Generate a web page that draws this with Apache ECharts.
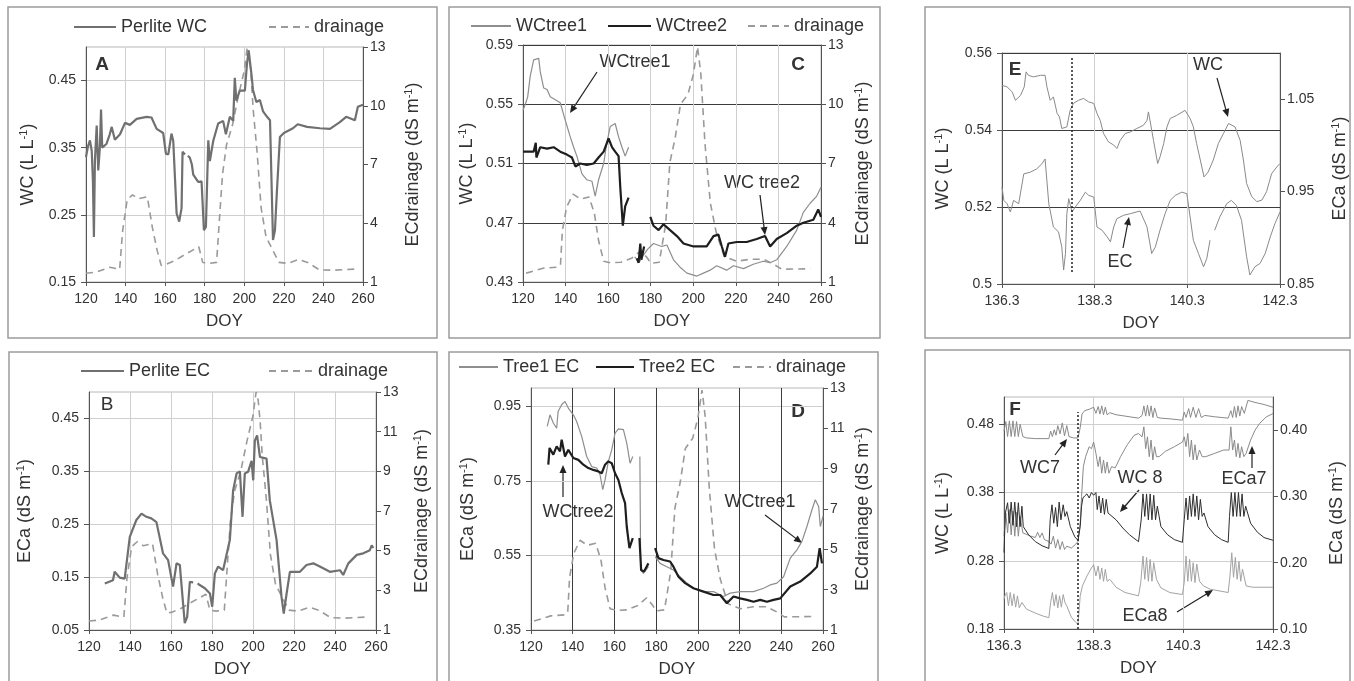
<!DOCTYPE html>
<html>
<head>
<meta charset="utf-8">
<title>Substrate WC and EC by DOY</title>
<script src="https://cdn.jsdelivr.net/npm/echarts@6/dist/echarts.min.js"></script>
<style>
  html, body { margin: 0; padding: 0; background: #fff; }
  #chart { width: 1354px; height: 681px; }
</style>
</head>
<body>
<div id="chart"></div>
<script>
// ---- values: [DOY, value], null = gap ----
const perliteWC = [[120,0.336],[121,0.352],[122,0.361],[122.9,0.345],[123.5,0.3],[124,0.217],[124.5,0.33],[125.4,0.383],[126.2,0.316],[127,0.35],[127.6,0.407],[128.2,0.35],[130.4,0.356],[132,0.37],[133,0.381],[134.6,0.362],[137.2,0.37],[139.7,0.387],[142.2,0.384],[145.6,0.393],[150.6,0.396],[153.1,0.395],[155.7,0.378],[159,0.372],[160.4,0.341],[161.6,0.34],[163.2,0.371],[164.1,0.36],[165.8,0.252],[167.1,0.24],[168.3,0.26],[168.8,0.344],[170,0.34],[170.6,null],[171.5,0.338],[172.5,0.335],[173.5,0.325],[174.2,0.31],[176.7,0.299],[178.4,0.3],[179.6,0.227],[180.6,0.232],[181.8,0.361],[182.6,0.33],[184.3,0.36],[186.8,0.386],[189.3,0.39],[190.7,0.37],[192.7,0.396],[194.4,0.39],[195.2,0.454],[196,0.42],[197.7,0.435],[200.3,0.435],[201.3,0.473],[202.2,0.495],[202.8,0.48],[203.6,0.46],[204.4,0.436],[206.1,0.418],[207.9,0.421],[209.5,0.404],[211.5,0.396],[213,0.391],[214.5,0.2125],[215.5,0.227],[216.4,0.28],[218,0.366],[220,0.372],[224.6,0.379],[227,0.385],[231.7,0.381],[238.2,0.379],[243.3,0.378],[248.3,0.388],[251.5,0.396],[253.4,0.394],[255.9,0.391],[257.4,0.411],[260,0.414]];

const perliteEC = [[127.7,0.138],[131.7,0.144],[132.5,0.16],[135,0.149],[137.4,0.147],[138.2,0.15],[139.9,0.226],[141.5,0.242],[143.1,0.258],[145.6,0.27],[148,0.264],[150.4,0.261],[152.9,0.254],[156.1,0.195],[158.6,0.182],[161,0.132],[162.7,0.176],[164.3,0.173],[165.9,0.1],[166.7,0.063],[167.9,0.075],[169.2,0.141],[170.8,0.14],[172,null],[173,0.138],[174,0.135],[176.5,0.129],[179,0.119],[180.1,0.094],[181.4,0.157],[183,0.17],[185.4,0.163],[188.7,0.22],[190.3,0.314],[192,0.346],[193.6,0.35],[194.9,0.264],[196,0.346],[197.6,0.349],[199.3,0.37],[200.1,0.333],[200.9,0.408],[202,0.418],[203.4,0.377],[206.6,0.374],[208.2,0.295],[211.5,0.22],[213.9,0.113],[215,0.081],[216.4,0.119],[218,0.16],[222.9,0.16],[226.1,0.173],[229.4,0.176],[232.6,0.17],[237.5,0.16],[242.4,0.163],[244,0.154],[246.5,0.176],[250.6,0.192],[253.8,0.195],[257,0.201],[257.9,0.21],[258.7,0.205]];

const perliteDrain = [[120,1.45],[125,1.5],[132,1.75],[137,1.65],[138.5,3.6],[140.8,5.2],[143.5,5.45],[146.5,5.25],[151,5.35],[153.5,3.8],[156,2.6],[158,1.85],[160.5,1.9],[165,2.1],[170,2.4],[177,2.8],[179,2.0],[182,1.95],[186,2.0],[187.5,4.3],[189,6.5],[191,8.0],[194,9.0],[197,10.5],[200,11.8],[201.5,13],[202.5,12.6],[203.5,11.5],[204.5,9.8],[206.5,7.6],[208.5,4.8],[211,3.3],[214.5,2.6],[217.5,2.0],[222,1.95],[227.5,2.15],[232,2.0],[238,1.62],[245,1.6],[256,1.66]];

const wcTree1 = [[120,0.546],[121.1,0.55],[122.2,0.555],[123.4,0.569],[125,0.58],[127.4,0.581],[128.1,0.572],[129.7,0.561],[131.3,0.56],[132.8,0.555],[135.2,0.553],[137.5,0.551],[139.9,0.539],[142.2,0.528],[143.8,0.521],[145.3,0.515],[147.7,0.503],[150,0.499],[152.4,0.498],[153.9,0.488],[155.5,0.499],[157.9,0.51],[159.4,0.524],[161,0.535],[163.3,0.537],[164.9,0.528],[166.5,0.521],[168,0.515],[169.6,0.521],[170.5,null],[172.5,0.447],[174.5,0.443],[176.5,0.448],[178.5,0.452],[181.3,0.456],[185.2,0.454],[187.6,0.455],[190.7,0.445],[193.8,0.44],[197,0.436],[201.7,0.434],[204.8,0.436],[207.9,0.438],[211,0.441],[215.7,0.438],[218.9,0.441],[223.6,0.439],[228.2,0.442],[232.9,0.444],[236,0.443],[239.2,0.445],[243.9,0.454],[248.6,0.465],[251.7,0.477],[254.8,0.483],[258,0.488],[260,0.494]];

const wcTree2 = [[120,0.518],[125,0.518],[126,0.524],[126.3,0.514],[128.1,0.521],[131.3,0.52],[134.4,0.521],[137.5,0.518],[140.6,0.516],[143,0.514],[144.6,0.508],[146.9,0.51],[150,0.509],[153.2,0.51],[155.5,0.514],[157.9,0.518],[160.2,0.527],[161.8,0.521],[163.3,0.518],[164.9,0.515],[165.7,0.494],[166.9,0.468],[168,0.481],[169.6,0.487],[170.5,null],[173.5,0.446],[174.3,0.443],[175.1,0.456],[175.6,0.445],[176.9,0.454],[178,null],[179.8,0.474],[181.3,0.468],[183.7,0.465],[186,0.469],[189.1,0.465],[192.3,0.461],[195.4,0.456],[200.1,0.454],[206.3,0.454],[209.5,0.461],[211.8,0.462],[213.4,0.454],[214.9,0.447],[216.5,0.456],[220.4,0.457],[225.1,0.457],[229.8,0.459],[233.7,0.461],[236.1,0.454],[239.2,0.459],[243.9,0.463],[248.6,0.468],[251.7,0.47],[256.4,0.472],[258.7,0.479],[260,0.474]];

const ecTree1 = [[127.8,0.897],[129.1,0.928],[130.7,0.906],[132.3,0.892],[133,0.937],[134.7,0.955],[136.3,0.964],[137.9,0.946],[140.3,0.928],[141.9,0.91],[144.3,0.87],[146.7,0.816],[149.1,0.789],[151.5,0.785],[153.1,0.767],[154.4,0.727],[155.5,0.753],[157.1,0.803],[158.7,0.834],[160.3,0.879],[161.9,0.89],[164.3,0.888],[165.9,0.852],[167.5,0.798],[168.8,0.816],[170,null],[172.2,0.816],[172.6,0.511],[173.9,0.502],[176.3,0.52],[177.5,null],[179.5,0.547],[181.9,0.529],[185.1,0.52],[188.3,0.511],[191.5,0.493],[194.7,0.476],[197.9,0.462],[202.7,0.453],[207.5,0.453],[212.3,0.44],[215.5,0.449],[220.3,0.453],[226.7,0.453],[231.5,0.462],[234.7,0.471],[237.9,0.476],[241.1,0.493],[244.3,0.543],[247.5,0.565],[249.9,0.588],[252.3,0.628],[254.7,0.673],[256.3,0.7],[257.9,0.682],[258.7,0.628],[260,0.655]];

const ecTree2 = [[128.3,0.794],[128.9,0.839],[130.7,0.821],[132.3,0.843],[133.9,0.83],[134.7,0.861],[136.3,0.816],[137.9,0.834],[140.3,0.812],[142.7,0.807],[145.1,0.794],[147.5,0.785],[149.9,0.78],[152.3,0.776],[153.9,0.771],[155.5,0.794],[157.1,0.803],[158.7,0.798],[160.3,0.771],[161.9,0.753],[163.5,0.718],[165.1,0.691],[165.9,0.628],[167.2,0.57],[168.8,0.597],[170,null],[172,0.597],[172.8,0.511],[174.2,0.507],[176.3,0.529],[177.5,null],[179.5,0.57],[181.1,0.543],[183.5,0.538],[186.7,0.534],[188.3,0.52],[190.7,0.493],[193.9,0.476],[197.9,0.462],[202.7,0.453],[207.5,0.444],[210.7,0.444],[213.9,0.422],[217.1,0.44],[220.3,0.435],[223.5,0.431],[226.7,0.426],[229.9,0.431],[233.1,0.426],[236.3,0.431],[239.5,0.435],[244.3,0.467],[249.1,0.48],[253.9,0.502],[257.1,0.52],[258.4,0.57],[259.5,0.529]];

const treeDrain = [[121.5,1.45],[129.5,1.7],[136,1.75],[137.6,1.85],[138.5,3.6],[140.5,4.8],[143.5,5.45],[147,5.2],[151,5.3],[153.5,4.5],[155.5,3.1],[157.9,2.05],[161,1.97],[166,2.0],[171,2.2],[175.5,2.6],[178.5,2.2],[180,1.95],[184,2.0],[187,3.9],[189,7.05],[191.5,8.3],[194,10.0],[197.5,10.5],[200,11.5],[202,12.9],[203.5,11.6],[205.5,8.0],[208,5.0],[210.8,3.5],[214.5,2.3],[220.4,2.05],[226.7,2.15],[233,2.15],[237.8,1.9],[241.5,1.65],[255,1.67]];

const wcE = [[136.3,0.5516],[136.41,0.5512],[136.52,0.5499],[136.59,0.5477],[136.7,0.549],[136.78,0.5512],[136.82,0.5551],[136.87,0.5542],[136.98,0.5538],[137.13,0.5542],[137.23,0.5542],[137.27,0.5512],[137.34,0.5477],[137.41,0.5486],[137.49,0.5443],[137.54,0.5434],[137.59,0.5404],[137.7,0.5408],[137.77,0.5451],[137.84,0.5469],[137.95,0.5477],[138.06,0.5482],[138.17,0.5473],[138.28,0.5469],[138.35,0.5443],[138.42,0.5425],[138.49,0.5391],[138.6,0.5369],[138.71,0.5361],[138.78,0.5352],[138.85,0.5373],[138.96,0.5391],[139.07,0.5395],[139.21,0.5404],[139.35,0.5412],[139.43,0.5425],[139.46,0.5447],[139.5,0.5421],[139.57,0.5373],[139.66,0.5313],[139.71,0.533],[139.79,0.5365],[139.86,0.5408],[139.93,0.543],[140.07,0.5438],[140.25,0.5451],[140.36,0.543],[140.43,0.5408],[140.5,0.5365],[140.58,0.5322],[140.66,0.5278],[140.75,0.5291],[140.86,0.5322],[140.97,0.5365],[141.08,0.5391],[141.19,0.5417],[141.33,0.5408],[141.44,0.5373],[141.51,0.5322],[141.58,0.5261],[141.69,0.5227],[141.8,0.5214],[141.91,0.5218],[142.01,0.524],[142.12,0.5287],[142.23,0.5304],[142.3,0.5313]];

const ecE = [[136.3,0.9548],[136.34,0.9405],[136.41,0.9369],[136.48,0.9279],[136.55,0.9405],[136.66,0.9369],[136.77,0.9692],[136.91,0.971],[137.05,0.9746],[137.16,0.98],[137.23,0.9853],[137.31,0.9369],[137.41,0.9117],[137.52,0.9064],[137.59,0.8902],[137.63,0.8651],[137.67,0.883],[137.7,0.9261],[137.74,0.9423],[137.81,0.9279],[137.88,0.9333],[137.99,0.9405],[138.1,0.9494],[138.17,0.9459],[138.28,0.9441],[138.35,0.9117],[138.46,0.9082],[138.57,0.901],[138.64,0.8956],[138.71,0.9117],[138.78,0.9207],[138.92,0.9243],[139.07,0.9261],[139.28,0.929],[139.43,0.9117],[139.53,0.883],[139.61,0.8902],[139.71,0.9082],[139.82,0.9261],[139.93,0.9405],[140.04,0.9459],[140.18,0.9494],[140.29,0.9477],[140.36,0.9225],[140.43,0.8974],[140.54,0.883],[140.65,0.8687],[140.72,0.8776],[140.79,0.8974],[140.84,null],[140.89,0.9082],[141.0,0.9225],[141.15,0.9369],[141.25,0.9405],[141.36,0.935],[141.47,0.9189],[141.58,0.8794],[141.65,0.8597],[141.76,0.8687],[141.87,0.8723],[141.98,0.883],[142.09,0.901],[142.19,0.9153],[142.3,0.9279]];

const wc7 = [[136.3,0.47],[136.34,0.484],[136.38,0.462],[136.42,0.485],[136.46,0.462],[136.5,0.485],[136.54,0.462],[136.58,0.484],[136.62,0.462],[136.66,0.48],[136.72,0.462],[136.8,0.46],[137.0,0.459],[137.3,0.459],[137.34,0.47],[137.38,0.462],[137.42,0.472],[137.46,0.464],[137.5,0.478],[137.55,0.466],[137.6,0.482],[137.65,0.463],[137.7,0.478],[137.75,0.462],[137.85,0.46],[137.95,0.46],[138.0,0.475],[138.04,0.495],[138.1,0.5],[138.2,0.502],[138.3,0.505],[138.35,0.496],[138.4,0.506],[138.44,0.495],[138.48,0.507],[138.52,0.494],[138.56,0.505],[138.6,0.494],[138.66,0.497],[138.8,0.494],[139.0,0.492],[139.3,0.489],[139.38,0.493],[139.42,0.507],[139.46,0.492],[139.5,0.508],[139.54,0.492],[139.58,0.507],[139.62,0.49],[139.66,0.504],[139.72,0.49],[139.8,0.489],[140.0,0.488],[140.28,0.486],[140.32,0.498],[140.36,0.49],[140.42,0.503],[140.46,0.49],[140.52,0.505],[140.58,0.49],[140.64,0.503],[140.7,0.49],[140.78,0.493],[141.0,0.491],[141.3,0.489],[141.36,0.5],[141.4,0.49],[141.44,0.506],[141.48,0.49],[141.52,0.507],[141.56,0.492],[141.6,0.506],[141.66,0.496],[141.74,0.515],[141.9,0.512],[142.1,0.509],[142.3,0.505]];

const wc8 = [[136.3,0.292],[136.33,0.35],[136.38,0.365],[136.42,0.335],[136.46,0.366],[136.5,0.332],[136.54,0.366],[136.58,0.33],[136.62,0.365],[136.66,0.33],[136.7,0.36],[136.73,0.33],[136.85,0.318],[137.0,0.308],[137.15,0.302],[137.3,0.298],[137.33,0.34],[137.37,0.362],[137.41,0.335],[137.45,0.358],[137.49,0.33],[137.53,0.366],[137.57,0.34],[137.62,0.362],[137.66,0.345],[137.7,0.352],[137.78,0.33],[137.88,0.315],[137.95,0.31],[138.0,0.33],[138.03,0.36],[138.06,0.372],[138.1,0.375],[138.15,0.378],[138.2,0.372],[138.25,0.38],[138.3,0.376],[138.35,0.38],[138.38,0.355],[138.42,0.375],[138.46,0.35],[138.5,0.372],[138.54,0.348],[138.58,0.37],[138.62,0.35],[138.66,0.352],[138.8,0.34],[138.95,0.328],[139.1,0.318],[139.3,0.308],[139.36,0.34],[139.4,0.378],[139.44,0.345],[139.48,0.378],[139.52,0.34],[139.56,0.378],[139.6,0.34],[139.64,0.376],[139.68,0.34],[139.72,0.36],[139.8,0.33],[139.95,0.318],[140.1,0.311],[140.28,0.307],[140.32,0.34],[140.36,0.372],[140.4,0.34],[140.44,0.375],[140.48,0.345],[140.52,0.378],[140.56,0.345],[140.6,0.375],[140.64,0.34],[140.68,0.37],[140.72,0.345],[140.76,0.35],[140.85,0.33],[141.0,0.318],[141.15,0.311],[141.3,0.307],[141.33,0.345],[141.37,0.38],[141.41,0.345],[141.45,0.38],[141.49,0.345],[141.53,0.38],[141.57,0.345],[141.61,0.378],[141.65,0.345],[141.69,0.36],[141.8,0.335],[141.95,0.322],[142.1,0.314],[142.3,0.31]];

const eca7 = [[136.3,0.24],[136.34,0.275],[136.38,0.245],[136.42,0.28],[136.46,0.242],[136.5,0.278],[136.54,0.24],[136.58,0.276],[136.62,0.24],[136.66,0.27],[136.72,0.245],[136.9,0.24],[137.0,0.238],[137.05,0.246],[137.1,0.238],[137.15,0.245],[137.2,0.235],[137.3,0.232],[137.35,0.228],[137.4,0.24],[137.45,0.222],[137.5,0.235],[137.55,0.22],[137.6,0.232],[137.65,0.22],[137.7,0.225],[137.8,0.222],[137.9,0.228],[137.95,0.232],[138.0,0.26],[138.03,0.3],[138.07,0.345],[138.12,0.36],[138.2,0.375],[138.25,0.372],[138.3,0.382],[138.35,0.365],[138.4,0.345],[138.44,0.36],[138.48,0.335],[138.52,0.355],[138.56,0.335],[138.6,0.352],[138.64,0.335],[138.7,0.345],[138.78,0.343],[138.9,0.36],[139.05,0.378],[139.2,0.392],[139.3,0.395],[139.38,0.39],[139.42,0.405],[139.46,0.372],[139.5,0.39],[139.54,0.36],[139.58,0.385],[139.62,0.355],[139.66,0.375],[139.7,0.36],[139.76,0.36],[139.9,0.368],[140.1,0.375],[140.28,0.382],[140.32,0.39],[140.36,0.375],[140.4,0.395],[140.44,0.36],[140.48,0.385],[140.52,0.355],[140.56,0.378],[140.6,0.355],[140.66,0.37],[140.72,0.36],[140.8,0.36],[141.0,0.365],[141.2,0.37],[141.32,0.37],[141.36,0.405],[141.4,0.37],[141.44,0.385],[141.48,0.36],[141.52,0.38],[141.56,0.358],[141.6,0.375],[141.65,0.36],[141.7,0.365],[141.8,0.385],[141.9,0.4],[142.0,0.41],[142.15,0.42],[142.3,0.425]];

const eca8 = [[136.3,0.145],[136.32,0.15],[136.36,0.155],[136.4,0.135],[136.44,0.155],[136.48,0.135],[136.52,0.153],[136.56,0.133],[136.6,0.15],[136.64,0.132],[136.7,0.14],[136.8,0.13],[137.0,0.124],[137.15,0.12],[137.3,0.117],[137.34,0.14],[137.38,0.155],[137.42,0.135],[137.46,0.152],[137.5,0.132],[137.54,0.15],[137.58,0.133],[137.62,0.152],[137.66,0.14],[137.7,0.135],[137.8,0.118],[137.9,0.11],[137.95,0.107],[138.0,0.15],[138.05,0.165],[138.15,0.18],[138.25,0.192],[138.3,0.197],[138.35,0.18],[138.4,0.195],[138.44,0.175],[138.48,0.192],[138.52,0.172],[138.56,0.19],[138.6,0.172],[138.66,0.175],[138.8,0.163],[139.0,0.155],[139.3,0.15],[139.35,0.17],[139.4,0.21],[139.44,0.175],[139.48,0.208],[139.52,0.172],[139.56,0.205],[139.6,0.172],[139.64,0.2],[139.7,0.175],[139.8,0.162],[140.0,0.155],[140.28,0.152],[140.32,0.17],[140.36,0.21],[140.4,0.172],[140.44,0.205],[140.48,0.172],[140.52,0.2],[140.56,0.17],[140.6,0.198],[140.66,0.172],[140.75,0.165],[140.9,0.16],[141.3,0.155],[141.34,0.18],[141.38,0.215],[141.42,0.178],[141.46,0.208],[141.5,0.175],[141.54,0.202],[141.58,0.172],[141.62,0.19],[141.7,0.165],[141.85,0.163],[142.3,0.163]];

// tick labels
const doyTicks = [120, 140, 160, 180, 200, 220, 240, 260];
const hourTicks = [136.3, 138.3, 140.3, 142.3];
const ticksA = [0.15, 0.25, 0.35, 0.45];
const ticksB = [0.05, 0.15, 0.25, 0.35, 0.45];
const ticksC = [0.43, 0.47, 0.51, 0.55, 0.59];
const ticksD = [0.35, 0.55, 0.75, 0.95];
const ticksE = [0.5, 0.52, 0.54, 0.56];
const ticksERight = [0.85, 0.95, 1.05];
const ticksF = [0.18, 0.28, 0.38, 0.48];
const ticksFRight = [0.10, 0.20, 0.30, 0.40];
const drainTicks3 = [1, 4, 7, 10, 13];
const drainTicks2 = [1, 3, 5, 7, 9, 11, 13];
const sensorChangeE = 137.8;
const sensorChangeF = 137.95;

const FONT = '"Liberation Sans", Arial, sans-serif';
const TXT = '#333';
const AX = '#555';
const LIGHT = '#cfcfcf';
const DARK = '#3c3c3c';
const supRich = { s: { fontSize: 11, fontFamily: FONT, color: TXT, verticalAlign: 'bottom', padding: [0, 0, 9, 0] } };

function xAxis(gi, min, max, ticks, lineColor, dec) {
  return {
    type: 'value', gridIndex: gi, min: min, max: max,
    name: 'DOY', nameLocation: 'middle', nameGap: 31,
    nameTextStyle: { fontSize: 17, color: TXT, fontFamily: FONT },
    axisLine: { onZero: false, lineStyle: { color: AX } },
    axisTick: { customValues: ticks, length: 4, lineStyle: { color: AX } },
    axisLabel: { customValues: ticks, fontSize: 14, color: TXT, fontFamily: FONT, margin: 10,
      formatter: v => dec ? v.toFixed(dec) : String(v) },
    splitLine: { show: true, lineStyle: { color: lineColor, width: 1 } }
  };
}

function yAxis(gi, side, min, max, ticks, name, gap, lineColor, dec) {
  return {
    type: 'value', gridIndex: gi, position: side, min: min, max: max,
    name: name, nameLocation: 'middle', nameGap: gap,
    nameTextStyle: { fontSize: 18, color: TXT, fontFamily: FONT, rich: supRich },
    axisLine: { show: true, onZero: false, lineStyle: { color: AX } },
    axisTick: { show: true, customValues: ticks, length: 5, lineStyle: { color: AX } },
    axisLabel: { customValues: ticks, fontSize: 14, color: TXT, fontFamily: FONT,
      margin: side === 'left' ? 10 : 7,
      formatter: v => dec ? v.toFixed(dec) : String(Math.round(v * 100) / 100) },
    splitLine: { show: !!lineColor, lineStyle: { color: lineColor || LIGHT, width: 1 } }
  };
}

function line(name, data, gi, right, color, width, dash) {
  return {
    type: 'line', name: name, data: data, xAxisIndex: gi, yAxisIndex: gi * 2 + (right ? 1 : 0),
    showSymbol: false, symbol: 'none', connectNulls: false, silent: true,
    lineStyle: { color: color, width: width, type: dash || 'solid' },
    itemStyle: { color: color }
  };
}

function dottedMark(x, y0, y1) {
  return {
    silent: true, symbol: ['none', 'none'], label: { show: false },
    lineStyle: { type: [2, 2], color: '#222', width: 1.5 },
    data: [[{ coord: [x, y0] }, { coord: [x, y1] }]]
  };
}

// one legend per entry so each sample sits where the figure has it
function legendItem(name, x, y, w) {
  return {
    data: [name], left: x, top: y - 7, itemWidth: w, itemHeight: 14, padding: 0,
    selectedMode: false, itemStyle: { opacity: 0 },
    textStyle: { fontSize: 18, color: TXT, fontFamily: FONT }
  };
}

function label(text, x, y, bold) {
  return { type: 'text', x: x, y: y, silent: true,
    style: { text: text, font: (bold ? 'bold ' : '') + '19px ' + FONT, fill: TXT, align: 'center', verticalAlign: 'middle' } };
}

function note(text, x, y) {
  return { type: 'text', x: x, y: y, silent: true,
    style: { text: text, font: '18px ' + FONT, fill: TXT, align: 'center', verticalAlign: 'middle' } };
}

function arrow(x1, y1, x2, y2) {
  const a = Math.atan2(y2 - y1, x2 - x1), L = 8, W = 3.5;
  const c = Math.cos(a), s = Math.sin(a);
  return [
    { type: 'line', silent: true, shape: { x1: x1, y1: y1, x2: x2 - L * 0.7 * c, y2: y2 - L * 0.7 * s },
      style: { stroke: '#222', lineWidth: 1.2 } },
    { type: 'polygon', silent: true,
      shape: { points: [[x2, y2], [x2 - L * c + W * s, y2 - L * s - W * c], [x2 - L * c - W * s, y2 - L * s + W * c]] },
      style: { fill: '#222' } }
  ];
}

function box(x, y, w, h) {
  return { type: 'rect', silent: true, shape: { x: x, y: y, width: w, height: h },
    style: { fill: 'none', stroke: '#9c9c9c', lineWidth: 1.5 } };
}

const gridBase = { show: true, borderColor: '#b8b8b8', borderWidth: 1, containLabel: false, outerBoundsMode: 'none' };
const wcName = 'WC (L L{s|-1})';
const ecaName = 'ECa (dS m{s|-1})';
const drainName = 'ECdrainage (dS m{s|-1})';
const dash = [7, 5];

const chart = echarts.init(document.getElementById('chart'), null, { renderer: 'canvas' });

chart.setOption({
  animation: false,
  backgroundColor: '#fff',
  grid: [
    Object.assign({ left: 86, top: 47, width: 277, height: 235 }, gridBase),    // A
    Object.assign({ left: 523, top: 45, width: 298, height: 237 }, gridBase),   // C
    Object.assign({ left: 1002, top: 53, width: 278, height: 231 }, gridBase),  // E
    Object.assign({ left: 89, top: 392, width: 287, height: 238 }, gridBase),   // B
    Object.assign({ left: 531, top: 388, width: 292, height: 242 }, gridBase),  // D
    Object.assign({ left: 1004, top: 397, width: 269, height: 232 }, gridBase)  // F
  ],
  xAxis: [
    xAxis(0, 120, 260, doyTicks, LIGHT),
    xAxis(1, 120, 260, doyTicks, LIGHT),
    xAxis(2, 136.3, 142.3, hourTicks, LIGHT, 1),
    xAxis(3, 120, 260, doyTicks, LIGHT),
    xAxis(4, 120, 260, doyTicks, DARK),
    xAxis(5, 136.3, 142.3, hourTicks, LIGHT, 1)
  ],
  yAxis: [
    yAxis(0, 'left', 0.15, 0.5, ticksA, wcName, 48, LIGHT, 2),
    yAxis(0, 'right', 1, 13, drainTicks3, drainName, 40),
    yAxis(1, 'left', 0.43, 0.59, ticksC, wcName, 46, DARK, 2),
    yAxis(1, 'right', 1, 13, drainTicks3, drainName, 32),
    yAxis(2, 'left', 0.5, 0.56, ticksE, wcName, 49, DARK),
    yAxis(2, 'right', 0.85, 1.1, ticksERight, ecaName, 50, null, 2),
    yAxis(3, 'left', 0.05, 0.5, ticksB, ecaName, 54, LIGHT, 2),
    yAxis(3, 'right', 1, 13, drainTicks2, drainName, 36),
    yAxis(4, 'left', 0.35, 1.0, ticksD, ecaName, 53, LIGHT, 2),
    yAxis(4, 'right', 1, 13, drainTicks2, drainName, 30),
    yAxis(5, 'left', 0.18, 0.52, ticksF, wcName, 51, LIGHT, 2),
    yAxis(5, 'right', 0.10, 0.45, ticksFRight, ecaName, 54, null, 2)
  ],
  legend: [
    legendItem('Perlite WC', 73, 25, 42),
    legendItem('drainage', 268, 25, 40),
    legendItem('Perlite EC', 80, 369, 43),
    legendItem('drainage', 268, 369, 44),
    legendItem('WCtree1', 470, 24, 40),
    legendItem('WCtree2', 607, 24, 43),
    legendItem('drainage', 747, 24, 41),
    legendItem('Tree1 EC', 458, 365, 39),
    legendItem('Tree2 EC', 595, 365, 38),
    legendItem('drainage', 732, 365, 38)
  ],
  series: [
    line('drainage', perliteDrain, 0, true, '#9a9a9a', 1.6, dash),
    line('Perlite WC', perliteWC, 0, false, '#707070', 2.2),
    line('drainage', treeDrain, 1, true, '#9a9a9a', 1.6, dash),
    line('WCtree1', wcTree1, 1, false, '#8e8e8e', 1.2),
    line('WCtree2', wcTree2, 1, false, '#1e1e1e', 2.2),
    Object.assign(line('E WC', wcE, 2, false, '#8a8a8a', 1), { markLine: dottedMark(sensorChangeE, 0.5031, 0.559) }),
    line('E EC', ecE, 2, true, '#8a8a8a', 1),
    line('drainage', perliteDrain, 3, true, '#9a9a9a', 1.6, dash),
    line('Perlite EC', perliteEC, 3, false, '#707070', 2.2),
    line('drainage', treeDrain, 4, true, '#9a9a9a', 1.6, dash),
    line('Tree1 EC', ecTree1, 4, false, '#8e8e8e', 1.2),
    line('Tree2 EC', ecTree2, 4, false, '#1e1e1e', 2.2),
    Object.assign(line('WC7', wc7, 5, false, '#8a8a8a', 1), { markLine: dottedMark(sensorChangeF, 0.18, 0.498) }),
    line('ECa7', eca7, 5, true, '#8a8a8a', 1),
    line('WC8', wc8, 5, false, '#2e2e2e', 1),
    line('ECa8', eca8, 5, true, '#a3a3a3', 1)
  ],
  graphic: [
    box(8, 7, 429, 331), box(449, 7, 431, 331), box(925, 7, 425, 331),
    box(9, 352, 428, 340), box(449, 352, 429, 340), box(925, 350, 425, 342),
    label('A', 102, 65, true), label('B', 107, 405, false), label('C', 798, 65, true),
    label('D', 798, 412, true), label('E', 1015, 70, true), label('F', 1015, 410, true),
    note('WCtree1', 635, 62), ...arrow(597, 72, 570, 113),
    note('WC tree2', 762, 183), ...arrow(760, 195, 765, 235),
    note('WCtree2', 578, 512), ...arrow(563, 497, 563, 465),
    note('WCtree1', 760, 502), ...arrow(765, 515, 802, 543),
    note('WC', 1208, 65), ...arrow(1217, 78, 1228, 117),
    note('EC', 1120, 262), ...arrow(1123, 248, 1129, 217),
    note('WC7', 1040, 468), ...arrow(1055, 455, 1067, 439),
    note('WC 8', 1140, 478), ...arrow(1139, 490, 1120, 512),
    note('ECa7', 1244, 479), ...arrow(1252, 468, 1252, 446),
    note('ECa8', 1145, 616), ...arrow(1177, 612, 1213, 590)
  ]
});
</script>
</body>
</html>
